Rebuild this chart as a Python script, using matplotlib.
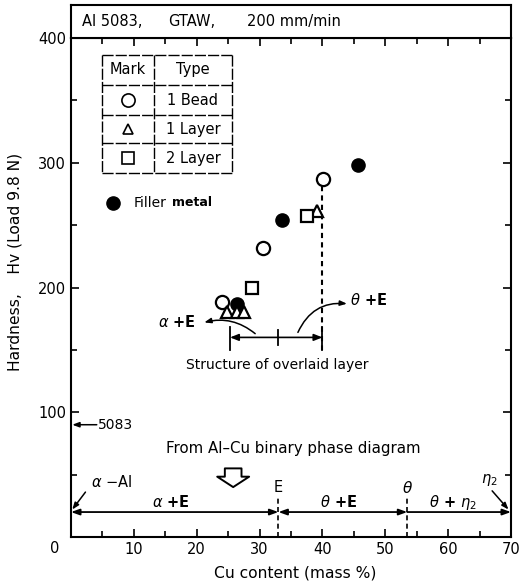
import matplotlib
matplotlib.use("Agg")
import matplotlib.pyplot as plt
from matplotlib.ticker import MultipleLocator

plt.rcParams['font.family'] = ['DejaVu Sans']
plt.rcParams['mathtext.fontset'] = 'dejavusans'

# ---- data ----
bead_x = [24.0, 30.5, 40.1]
bead_y = [188, 232, 287]
layer1_x = [24.8, 26.4, 27.5, 39.1]
layer1_y = [180, 180, 180, 261]
layer2_x = [28.8, 37.5]
layer2_y = [200, 257]
filler_x = [26.4, 33.6, 45.7]
filler_y = [187, 254, 298]

xticks = [10, 20, 30, 40, 50, 60, 70]
yticks = [0, 100, 200, 300, 400]
ytick_labels = ['', '100', '200', '300', '400']

phase_bounds = [0, 33, 53.5, 70]
phase_labels = [r'$\alpha$ +E', r'$\theta$ +E', r'$\theta$ + $\eta_2$']
legend_types = ['1 Bead', '1 Layer', '2 Layer']
alloy_hv = 90
overlay_range = [25.3, 33, 40]

fig = plt.figure(figsize=(5.2, 5.86), dpi=100)
L, R = 71 / 520, 511 / 520
B, T = 1 - 537 / 586, 1 - 38 / 586
ax = fig.add_axes([L, B, R - L, T - B])
hdr = fig.add_axes([L, T, R - L, (1 - 5 / 586) - T])
hdr.set_xticks([]); hdr.set_yticks([])
for s in hdr.spines.values():
    s.set_linewidth(1.5)
for txt, px in (('Al 5083,', 82), ('GTAW,', 168), ('200 mm/min', 247)):
    hdr.text((px - 71) / 440, 0.5, txt, va='center', ha='left', fontsize=10.5)

ax.set_xlim(0, 70)
ax.set_ylim(0, 400)
for s in ax.spines.values():
    s.set_linewidth(1.5)
ax.xaxis.set_minor_locator(MultipleLocator(5))
ax.yaxis.set_minor_locator(MultipleLocator(50))
ax.tick_params(which='both', direction='in', top=True, right=True, width=1.2, labelsize=10.5)
ax.tick_params(which='major', length=6)
ax.tick_params(which='minor', length=4)
ax.set_xticks(xticks)
ax.set_yticks(yticks)
ax.set_yticklabels(ytick_labels)
ax.text(-0.027, -0.008, '0', transform=ax.transAxes, ha='right', va='top', fontsize=10.5)
ax.set_xlabel('Cu content (mass %)', fontsize=11.2)
ax.xaxis.set_label_coords(0.51, -0.057)
ax.set_ylabel('Hardness,    Hv (Load 9.8 N)', fontsize=11.2)
ax.yaxis.set_label_coords(-0.111, 0.551)

# ---- data points ----
ms = 9.5
ax.plot(filler_x, filler_y, 'o', ms=ms, mfc='black', mec='black', ls='none', zorder=3)
ax.plot(bead_x, bead_y, 'o', ms=ms, mfc='white', mec='black', mew=1.6, ls='none', zorder=4)
ax.plot(layer1_x, layer1_y, '^', ms=9, mfc='white', mec='black', mew=1.6, ls='none', zorder=4)
ax.plot(layer2_x, layer2_y, 's', ms=ms - 0.5, mfc='white', mec='black', mew=1.6, ls='none', zorder=4)

# ---- legend table ----
tx0, tx1, tx2 = 4.9, 13.2, 25.6
ty = [386.4, 362.3, 338.3, 315.8, 291.8]
lw_t = 1.0
for yy in ty:
    ax.plot([tx0, tx2], [yy, yy], color='black', lw=lw_t, ls=(0, (8, 1.5)))
for xx in (tx0, tx1, tx2):
    ax.plot([xx, xx], [ty[0], ty[-1]], color='black', lw=lw_t, ls=(0, (8, 1.5)))
cm = (tx0 + tx1) / 2
ct = (tx1 + tx2) / 2
ax.text(cm, (ty[0] + ty[1]) / 2, 'Mark', ha='center', va='center', fontsize=10.5)
ax.text(ct, (ty[0] + ty[1]) / 2, 'Type', ha='center', va='center', fontsize=10.5)
marks = [('o', 9.5), ('^', 7.5), ('s', 9)]
for i, (t, (m, s)) in enumerate(zip(legend_types, marks)):
    yc = (ty[i + 1] + ty[i + 2]) / 2
    ax.plot([cm], [yc], m, ms=s, mfc='white', mec='black', mew=1.2)
    ax.text(ct, yc, t, ha='center', va='center', fontsize=10.5)

ax.plot([6.7], [268], 'o', ms=9.5, mfc='black', mec='black')
ax.text(9.9, 268, 'Filler', ha='left', va='center', fontsize=10)
ax.text(16.1, 268, 'metal', ha='left', va='center', fontsize=9, fontweight='bold')

# ---- overlaid layer structure ----
x0, xm, x1 = overlay_range
ax.plot([x1, x1], [bead_y[2] - 6, 150], color='black', lw=1.5, ls=(0, (2.5, 2)))
ax.annotate('', xy=(x0, 160), xytext=(x1, 160),
            arrowprops=dict(arrowstyle='<|-|>,head_length=0.5,head_width=0.2', color='black', lw=1.2,
                            shrinkA=0, shrinkB=0))
ax.plot([x0, x0], [150, 168], color='black', lw=1.3)
ax.plot([xm, xm], [154, 166], color='black', lw=1.3)
ax.plot([x1, x1], [150, 168], color='black', lw=1.3)
ax.text(32.8, 138, 'Structure of overlaid layer', ha='center', va='center', fontsize=10)
ax.text(16.9, 172, r'$\alpha$ +E', ha='center', va='center', fontsize=10.5, fontweight='bold')
ax.annotate('', xy=(21.2, 172), xytext=(29.3, 163),
            arrowprops=dict(arrowstyle='-|>,head_length=0.4,head_width=0.15', color='black', lw=1.1,
                            shrinkA=0, shrinkB=0, connectionstyle='arc3,rad=0.25'))
ax.text(47.4, 190, r'$\theta$ +E', ha='center', va='center', fontsize=10.5, fontweight='bold')
ax.annotate('', xy=(43.9, 187), xytext=(36.1, 164),
            arrowprops=dict(arrowstyle='-|>,head_length=0.4,head_width=0.15', color='black', lw=1.1,
                            shrinkA=0, shrinkB=0, connectionstyle='arc3,rad=-0.35'))

# ---- 5083 base metal ----
ax.annotate('', xy=(0.2, alloy_hv), xytext=(4.1, alloy_hv),
            arrowprops=dict(arrowstyle='-|>,head_length=0.4,head_width=0.15', color='black', lw=1.1,
                            shrinkA=0, shrinkB=0))
ax.text(4.3, alloy_hv, '5083', ha='left', va='center', fontsize=10)

# ---- phase diagram bar ----
ax.text(35.3, 71, 'From Al\u2013Cu binary phase diagram', ha='center', va='center', fontsize=10.8)
ax.annotate('', xy=(25.8, 40), xytext=(25.8, 55),
            arrowprops=dict(arrowstyle='simple,head_length=0.75,head_width=2.3,tail_width=1.2',
                            fc='white', ec='black', lw=1.4, shrinkA=0, shrinkB=0))
py = 20
ax.annotate('', xy=(phase_bounds[0], py), xytext=(phase_bounds[1], py),
            arrowprops=dict(arrowstyle='<|-|>,head_length=0.5,head_width=0.18', color='black', lw=1.3,
                            shrinkA=0, shrinkB=0))
ax.annotate('', xy=(phase_bounds[1], py), xytext=(phase_bounds[2], py),
            arrowprops=dict(arrowstyle='<|-|>,head_length=0.5,head_width=0.18', color='black', lw=1.3,
                            shrinkA=0, shrinkB=0))
ax.annotate('', xy=(phase_bounds[2], py), xytext=(phase_bounds[3], py),
            arrowprops=dict(arrowstyle='<|-,head_length=0.5,head_width=0.18', color='black', lw=1.3,
                            shrinkA=0, shrinkB=0))
for xb in phase_bounds[1:3]:
    ax.plot([xb, xb], [0, 32], color='black', lw=1.2, ls=(0, (3, 2)))
ax.text(15.9, 28, phase_labels[0], ha='center', va='center', fontsize=10.5, fontweight='bold')
ax.text(42.6, 28, phase_labels[1], ha='center', va='center', fontsize=10.5, fontweight='bold')
ax.text(60.8, 28, phase_labels[2], ha='center', va='center', fontsize=10.5, fontweight='bold')
ax.text(33, 40, 'E', ha='center', va='center', fontsize=10.5)
ax.text(53.5, 39, r'$\theta$', ha='center', va='center', fontsize=11, fontweight='bold')
ax.text(6.4, 44, r'$\alpha$ $-$Al', ha='center', va='center', fontsize=10.5)
ax.annotate('', xy=(0.2, 22), xytext=(2.3, 36),
            arrowprops=dict(arrowstyle='-|>,head_length=0.4,head_width=0.15', color='black', lw=1.1,
                            shrinkA=0, shrinkB=0))
ax.text(66.5, 46, r'$\eta_2$', ha='center', va='center', fontsize=10.5)
ax.annotate('', xy=(69.6, 22), xytext=(67.0, 37),
            arrowprops=dict(arrowstyle='-|>,head_length=0.4,head_width=0.15', color='black', lw=1.1,
                            shrinkA=0, shrinkB=0))

fig.savefig('out.png', dpi=100)
